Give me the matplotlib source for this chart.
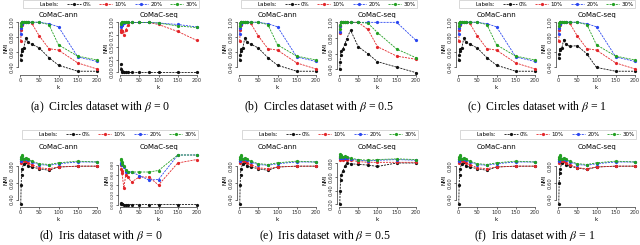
import matplotlib
matplotlib.use("Agg")
import matplotlib.pyplot as plt
from matplotlib.lines import Line2D
from matplotlib.ticker import FormatStrFormatter

plt.rcParams['font.family'] = ['DejaVu Sans']
plt.rcParams['mathtext.fontset'] = 'stix'

K = [2, 3, 4, 5, 10, 15, 20, 30, 50, 75, 100, 150, 200]
LABELS = ["0%", "10%", "20%", "30%"]
COLORS = ["#111111", "#e3262a", "#2a46f0", "#22a022"]

# Circles, CoMaC-ann (same for all beta)
circ_ann_0 = [0.50, 0.56, 0.62, 0.64, 0.66, 0.79, 0.74, 0.71, 0.66, 0.53, 0.43, 0.35, 0.35]
circ_ann_10 = [0.75, 0.90, 0.97, 1.00, 1.00, 1.00, 1.00, 0.99, 0.82, 0.65, 0.63, 0.46, 0.38]
circ_ann_20 = [0.85, 0.93, 0.98, 1.00, 1.00, 1.00, 1.00, 1.00, 1.00, 0.98, 0.94, 0.54, 0.48]
circ_ann_30 = [0.95, 0.99, 1.00, 1.00, 1.00, 1.00, 1.00, 1.00, 1.00, 0.97, 0.70, 0.55, 0.50]

# Circles, CoMaC-seq, beta = 0
circ_seq_b0_0 = [0.17, 0.07, 0.03, 0.01, 0.00, 0.00, 0.00, 0.00, 0.00, 0.00, 0.00, 0.00, 0.00]
circ_seq_b0_10 = [0.80, 0.85, 0.82, 0.83, 0.74, 0.85, 0.95, 1.00, 1.00, 1.00, 0.96, 0.82, 0.64]
circ_seq_b0_20 = [0.90, 0.93, 0.95, 0.95, 0.98, 1.00, 1.00, 1.00, 1.00, 1.00, 0.99, 0.96, 0.91]
circ_seq_b0_30 = [0.96, 0.98, 1.00, 1.00, 1.00, 1.00, 1.00, 1.00, 1.00, 1.00, 0.99, 0.93, 0.90]

# Circles, CoMaC-seq, beta = 0.5
circ_seq_b05_0 = [0.40, 0.50, 0.58, 0.63, 0.66, 0.72, 0.79, 0.90, 0.69, 0.60, 0.50, 0.43, 0.36]
circ_seq_b05_10 = [0.87, 0.95, 1.00, 1.00, 1.00, 1.00, 1.00, 1.00, 1.00, 0.91, 0.69, 0.57, 0.53]
circ_seq_b05_20 = [0.88, 0.95, 1.00, 1.00, 1.00, 1.00, 1.00, 1.00, 1.00, 1.00, 1.00, 1.00, 0.77]
circ_seq_b05_30 = [0.92, 0.97, 1.00, 1.00, 1.00, 1.00, 1.00, 1.00, 1.00, 0.99, 0.87, 0.66, 0.55]

# Circles, CoMaC-seq, beta = 1
circ_seq_b1_0 = [0.52, 0.58, 0.63, 0.65, 0.66, 0.77, 0.71, 0.68, 0.69, 0.58, 0.40, 0.35, 0.35]
circ_seq_b1_10 = [0.75, 0.90, 0.97, 1.00, 1.00, 1.00, 1.00, 0.99, 0.82, 0.65, 0.63, 0.46, 0.38]
circ_seq_b1_20 = [0.85, 0.93, 0.98, 1.00, 1.00, 1.00, 1.00, 1.00, 1.00, 0.98, 0.94, 0.54, 0.48]
circ_seq_b1_30 = [0.95, 0.99, 1.00, 1.00, 1.00, 1.00, 1.00, 1.00, 1.00, 0.97, 0.70, 0.55, 0.50]

# Iris, CoMaC-ann (same for all beta)
iris_ann_0 = [0.35, 0.58, 0.70, 0.77, 0.83, 0.85, 0.80, 0.79, 0.77, 0.75, 0.79, 0.80, 0.80]
iris_ann_10 = [0.84, 0.86, 0.87, 0.87, 0.86, 0.86, 0.84, 0.82, 0.78, 0.77, 0.79, 0.80, 0.80]
iris_ann_20 = [0.86, 0.88, 0.89, 0.89, 0.88, 0.88, 0.87, 0.85, 0.82, 0.81, 0.83, 0.85, 0.85]
iris_ann_30 = [0.88, 0.91, 0.93, 0.92, 0.89, 0.90, 0.88, 0.86, 0.83, 0.82, 0.84, 0.86, 0.85]

# Iris, CoMaC-seq, beta = 0
iris_seq_b0_0 = [0.03, 0.02, 0.01, 0.01, 0.00, 0.00, 0.00, 0.00, 0.00, 0.00, 0.00, 0.00, 0.00]
iris_seq_b0_10 = [0.80, 0.72, 0.68, 0.64, 0.33, 0.60, 0.55, 0.45, 0.55, 0.55, 0.39, 0.83, 0.90]
iris_seq_b0_20 = [0.82, 0.84, 0.82, 0.80, 0.75, 0.66, 0.65, 0.65, 0.58, 0.49, 0.50, 0.99, 0.99]
iris_seq_b0_30 = [0.92, 0.90, 0.85, 0.81, 0.78, 0.70, 0.66, 0.65, 0.65, 0.65, 0.68, 0.99, 0.99]

# Iris, CoMaC-seq, beta = 0.5
iris_seq_b05_0 = [0.20, 0.40, 0.55, 0.62, 0.68, 0.75, 0.80, 0.79, 0.78, 0.77, 0.75, 0.80, 0.80]
iris_seq_b05_10 = [0.85, 0.88, 0.87, 0.86, 0.85, 0.86, 0.85, 0.84, 0.82, 0.81, 0.81, 0.81, 0.81]
iris_seq_b05_20 = [0.87, 0.90, 0.89, 0.88, 0.87, 0.88, 0.87, 0.86, 0.84, 0.83, 0.84, 0.85, 0.84]
iris_seq_b05_30 = [0.89, 0.93, 0.91, 0.90, 0.89, 0.90, 0.89, 0.87, 0.85, 0.84, 0.85, 0.86, 0.85]

# Iris, CoMaC-seq, beta = 1
iris_seq_b1_0 = [0.35, 0.60, 0.72, 0.76, 0.84, 0.86, 0.82, 0.80, 0.78, 0.76, 0.79, 0.80, 0.80]
iris_seq_b1_10 = [0.84, 0.86, 0.87, 0.87, 0.86, 0.86, 0.84, 0.82, 0.78, 0.77, 0.79, 0.80, 0.80]
iris_seq_b1_20 = [0.86, 0.88, 0.89, 0.89, 0.88, 0.88, 0.87, 0.85, 0.82, 0.81, 0.83, 0.85, 0.85]
iris_seq_b1_30 = [0.88, 0.91, 0.93, 0.92, 0.89, 0.90, 0.88, 0.86, 0.83, 0.82, 0.84, 0.86, 0.85]

CAPTIONS = [r"(a)  Circles dataset with $\beta$ = 0",
            r"(b)  Circles dataset with $\beta$ = 0.5",
            r"(c)  Circles dataset with $\beta$ = 1",
            r"(d)  Iris dataset with $\beta$ = 0",
            r"(e)  Iris dataset with $\beta$ = 0.5",
            r"(f)  Iris dataset with $\beta$ = 1"]

circ_ann = [circ_ann_0, circ_ann_10, circ_ann_20, circ_ann_30]
iris_ann = [iris_ann_0, iris_ann_10, iris_ann_20, iris_ann_30]
panels = [
    (circ_ann, [circ_seq_b0_0, circ_seq_b0_10, circ_seq_b0_20, circ_seq_b0_30]),
    (circ_ann, [circ_seq_b05_0, circ_seq_b05_10, circ_seq_b05_20, circ_seq_b05_30]),
    (circ_ann, [circ_seq_b1_0, circ_seq_b1_10, circ_seq_b1_20, circ_seq_b1_30]),
    (iris_ann, [iris_seq_b0_0, iris_seq_b0_10, iris_seq_b0_20, iris_seq_b0_30]),
    (iris_ann, [iris_seq_b05_0, iris_seq_b05_10, iris_seq_b05_20, iris_seq_b05_30]),
    (iris_ann, [iris_seq_b1_0, iris_seq_b1_10, iris_seq_b1_20, iris_seq_b1_30]),
]
# (ylim, yticks, fmt, labelsize) for ann and seq per panel
yspec = [
    (((0.30, 1.03), [0.4, 0.6, 0.8, 1.0], '%.2f', 3.8), ((-0.05, 1.05), [0, 0.25, 0.5, 0.75, 1.0], '%.2f', 3.8)),
    (((0.30, 1.03), [0.4, 0.6, 0.8, 1.0], '%.2f', 3.8), ((0.33, 1.03), [0.4, 0.6, 0.8, 1.0], '%.2f', 3.8)),
    (((0.30, 1.03), [0.4, 0.6, 0.8, 1.0], '%.2f', 3.8), ((0.30, 1.03), [0.4, 0.6, 0.8, 1.0], '%.2f', 3.8)),
    (((0.31, 0.97), [0.4, 0.6, 0.8], '%.2f', 3.8), ((-0.05, 1.05), [0, 0.2, 0.4, 0.6, 0.8], '%.2f', 3.0)),
    (((0.31, 0.97), [0.4, 0.6, 0.8], '%.2f', 3.8), ((0.16, 0.96), [0.2, 0.4, 0.6, 0.8], '%.2f', 3.8)),
    (((0.31, 0.97), [0.4, 0.6, 0.8], '%.2f', 3.8), ((0.31, 0.97), [0.4, 0.6, 0.8], '%.2f', 3.8)),
]

W, H = 640, 245
fig = plt.figure(figsize=(6.4, 2.45), dpi=100)

PXK = 77 / 200.0
ann_x0 = [20, 239, 458]
seq_x0 = [120, 339, 558]
row_top = [20, 152]
row_bot = [75, 207]
leg_cx = [[111, 329, 547], [110, 330, 548]]
leg_cy = [4, 134.5]
cap_cx = [[100, 319, 537], [101, 325, 535]]
cap_cy = [107, 236]


def add_ax(x0, top, bot):
    left = x0 - 5 * PXK
    width = 210 * PXK
    return fig.add_axes([left / W, 1 - bot / H, width / W, (bot - top) / H])


def style(ax, spec, title):
    ylim, yt, fmt, ls = spec
    ax.set_xlim(-5, 205)
    ax.set_ylim(*ylim)
    ax.set_xticks([0, 50, 100, 150, 200])
    ax.set_yticks(yt)
    ax.yaxis.set_major_formatter(FormatStrFormatter(fmt))
    for s in ['top', 'right']:
        ax.spines[s].set_visible(False)
    ax.spines['left'].set_bounds(yt[0], yt[-1])
    ax.spines['bottom'].set_bounds(0, 200)
    for s in ['left', 'bottom']:
        ax.spines[s].set_linewidth(0.5)
        ax.spines[s].set_color('#333333')
    ax.tick_params(length=1.5, width=0.5, pad=1, labelsize=3.8, colors='#333333')
    ax.tick_params(axis='y', labelsize=ls)
    for lab in ax.get_yticklabels():
        lab.set_rotation(90)
        lab.set_va('center')
    ax.set_xlabel('k', fontsize=4, labelpad=1)
    ax.set_ylabel('NMI', fontsize=4, labelpad=1)
    ax.set_title(title, fontsize=5, pad=2)
    ax.patch.set_visible(False)


for i, (ann, seq) in enumerate(panels):
    r, c = divmod(i, 3)
    for j, (data, name, x0) in enumerate([(ann, 'CoMaC-ann', ann_x0[c]), (seq, 'CoMaC-seq', seq_x0[c])]):
        ax = add_ax(x0, row_top[r], row_bot[r])
        for s in range(4):
            ax.plot(K, data[s], ls='--', lw=0.6, marker='o', ms=1.3, color=COLORS[s], dashes=(2.5, 1.2))
        style(ax, yspec[i][j], name)
    handles = [Line2D([], [], ls='none', label='Labels:')]
    handles += [Line2D([], [], ls='--', lw=0.6, marker='o', ms=1.3, color=COLORS[s], dashes=(2.5, 1.2), label=LABELS[s]) for s in range(4)]
    leg = fig.legend(handles=handles, loc='center', bbox_to_anchor=(leg_cx[r][c] / W, 1 - leg_cy[r] / H),
                     ncol=5, fontsize=4, frameon=True, handlelength=2.4, handletextpad=0.4, columnspacing=1.4,
                     borderpad=0.3, fancybox=False)
    leg.get_frame().set_linewidth(0.5)
    leg.get_frame().set_edgecolor('#bbbbbb')
    fig.text(cap_cx[r][c] / W, 1 - cap_cy[r] / H, CAPTIONS[i], ha='center', va='center',
             fontsize=8.5, family='Liberation Serif')

fig.savefig('out.png', dpi=100)
